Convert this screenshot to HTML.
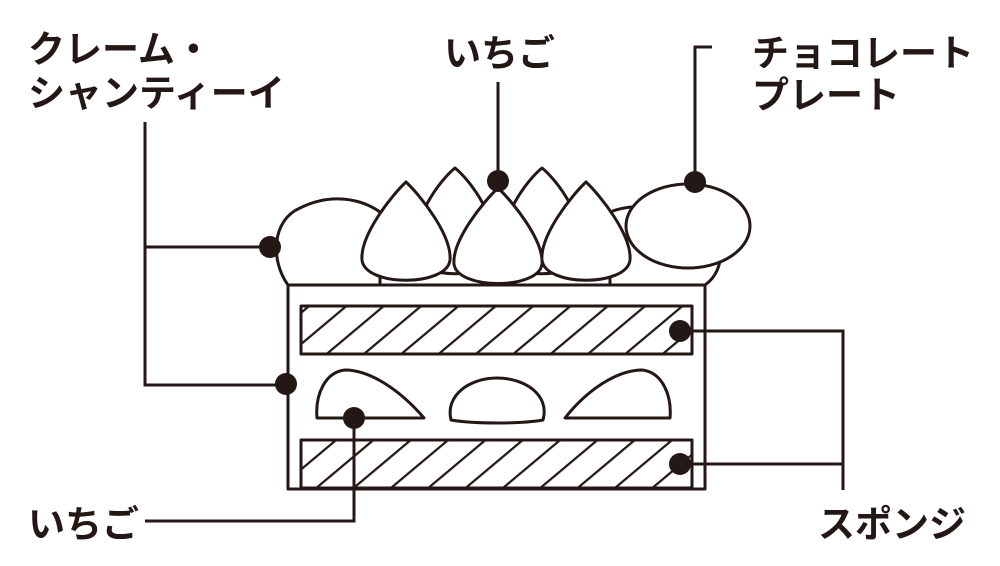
<!DOCTYPE html>
<html><head><meta charset="utf-8"><style>
body{margin:0;background:#fff;}
svg{display:block}
text{font-family:"Liberation Sans","Noto Sans CJK JP",sans-serif;font-weight:bold;font-size:37px;fill:#231815}
</style></head><body>
<svg width="1000" height="566" viewBox="0 0 1000 566">
<defs>
<pattern id="h" patternUnits="userSpaceOnUse" width="24" height="30" patternTransform="rotate(50)">
<rect width="24" height="30" fill="#fff"/><line x1="0" y1="0" x2="0" y2="30" stroke="#231815" stroke-width="4.5"/>
</pattern>
</defs>
<g fill="#fff" stroke="#231815" stroke-width="3" stroke-linejoin="round">
<path d="M288 285 C270 260 272 220 300 208 C330 193 360 198 380 212 L380 285 Z"/>
<path d="M610 212 C640 200 700 205 720 250 C722 265 715 278 705 285 L610 285 Z"/>
<path d="M455 168 C470 180 500 220 495 255 C490 280 420 280 415 255 C410 220 440 180 455 168 Z"/>
<path d="M542 168 C557 180 587 220 582 255 C577 280 507 280 502 255 C497 220 527 180 542 168 Z"/>
<path d="M406 182 C420 195 452 235 450 260 C447 287 365 287 362 260 C360 235 392 195 406 182 Z"/>
<path d="M498 188 C512 201 544 240 542 264 C539 290 457 290 454 264 C452 240 484 201 498 188 Z"/>
<path d="M586 182 C600 195 632 235 630 260 C627 287 545 287 542 260 C540 235 572 195 586 182 Z"/>
<ellipse cx="688" cy="226" rx="62" ry="42"/>
<rect x="288" y="285" width="417" height="204"/>
<rect x="301" y="306" width="391" height="48" fill="url(#h)"/>
<rect x="301" y="440" width="391" height="48" fill="url(#h)"/>
<path d="M317 418 C315 395 325 372 345 370 C370 370 400 390 424 418 Z"/>
<path d="M451 420 C445 395 470 378 497 378 C525 378 550 395 543 420 C520 424 475 424 451 420 Z"/>
<path d="M670 418 C672 395 662 372 642 370 C617 370 587 390 565 418 Z"/>
</g>
<g stroke="#231815" stroke-width="3" fill="none">
<polyline points="145,122 145,385 286,385"/>
<line x1="145" y1="247" x2="270" y2="247"/>
<line x1="498" y1="82" x2="498" y2="181"/>
<polyline points="712,47 695,47 695,182"/>
<polyline points="145,521 354,521 354,418"/>
<polyline points="680,331 843,331 843,490"/>
<line x1="680" y1="464" x2="843" y2="464"/>
</g>
<g fill="#231815">
<circle cx="270" cy="247" r="11"/><circle cx="498" cy="181" r="11"/><circle cx="695" cy="182" r="11"/>
<circle cx="286" cy="384" r="11"/><circle cx="354" cy="418" r="11"/>
<circle cx="680" cy="331" r="11"/><circle cx="680" cy="464" r="11"/>
</g>
<text x="28" y="62">クレーム・</text>
<text x="28" y="106">シャンティーイ</text>
<text x="444" y="66">いちご</text>
<text x="752" y="66">チョコレート</text>
<text x="752" y="108">プレート</text>
<text x="28" y="537">いちご</text>
<text x="818" y="537">スポンジ</text>
</svg>
</body></html>
